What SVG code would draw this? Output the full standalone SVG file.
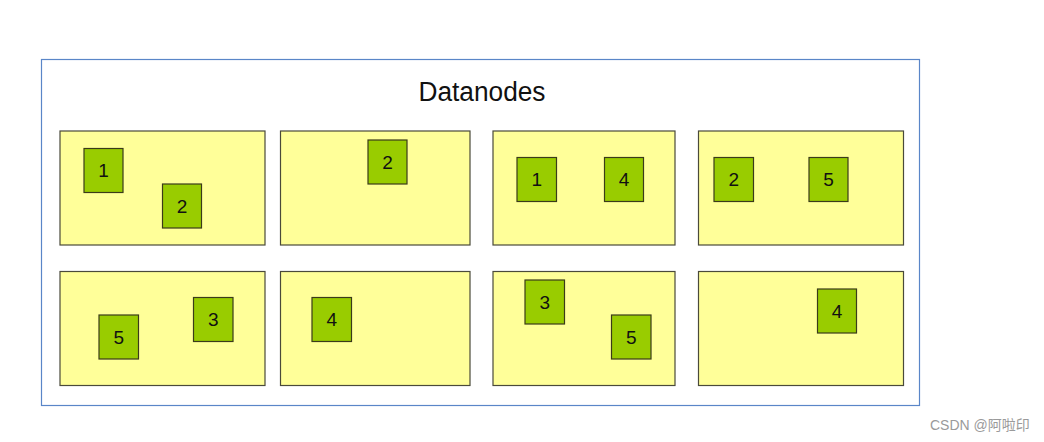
<svg xmlns="http://www.w3.org/2000/svg" width="1044" height="442" viewBox="0 0 1044 442">
<style>
.dn{fill:#ffff99;stroke:#4a4a3a;stroke-width:1.2}
.blk{fill:#99cc00;stroke:#3a3a1a;stroke-width:1.2}
.num{font-family:"Liberation Sans",Arial,sans-serif;font-size:19px;fill:#111;text-anchor:middle;dominant-baseline:central}
.title{font-family:"Liberation Sans",Arial,sans-serif;font-size:27px;fill:#111;text-anchor:middle}
.wm{font-family:"Liberation Sans","Noto Sans CJK SC",sans-serif;font-size:14px;fill:#9a9a9a}
</style>
<rect width="1044" height="442" fill="#ffffff"/>
<g id="container">
<rect x="41.5" y="59.5" width="878" height="346" fill="#ffffff" stroke="#5a86c8" stroke-width="1.2"/>
<text class="title" x="482" y="101" textLength="127" lengthAdjust="spacingAndGlyphs">Datanodes</text>
</g>
<g id="dn1"><rect class="dn" x="60" y="131" width="205" height="114"/>
<g id="dn1-b1"><rect class="blk" x="84" y="148.5" width="39" height="44"/><text class="num" x="103.5" y="170.5">1</text></g>
<g id="dn1-b2"><rect class="blk" x="162.5" y="184" width="39" height="44"/><text class="num" x="182" y="206">2</text></g>
</g>
<g id="dn2"><rect class="dn" x="280.5" y="131" width="189.5" height="114"/>
<g id="dn2-b2"><rect class="blk" x="368" y="140" width="39" height="44"/><text class="num" x="387.5" y="162">2</text></g>
</g>
<g id="dn3"><rect class="dn" x="493" y="131" width="182" height="114"/>
<g id="dn3-b1"><rect class="blk" x="517" y="157.5" width="39.5" height="44"/><text class="num" x="536.8" y="179.5">1</text></g>
<g id="dn3-b4"><rect class="blk" x="604.5" y="157.5" width="39" height="44"/><text class="num" x="624" y="179.5">4</text></g>
</g>
<g id="dn4"><rect class="dn" x="698.5" y="131" width="205" height="114"/>
<g id="dn4-b2"><rect class="blk" x="714" y="157.5" width="39.5" height="44"/><text class="num" x="733.8" y="179.5">2</text></g>
<g id="dn4-b5"><rect class="blk" x="809" y="157.5" width="39" height="44"/><text class="num" x="828.5" y="179.5">5</text></g>
</g>
<g id="dn5"><rect class="dn" x="60" y="271.5" width="205" height="114"/>
<g id="dn5-b5"><rect class="blk" x="99" y="315" width="39.5" height="44"/><text class="num" x="118.8" y="337">5</text></g>
<g id="dn5-b3"><rect class="blk" x="193.5" y="297.5" width="39.5" height="44"/><text class="num" x="213.3" y="319.5">3</text></g>
</g>
<g id="dn6"><rect class="dn" x="280.5" y="271.5" width="189.5" height="114"/>
<g id="dn6-b4"><rect class="blk" x="312" y="297.5" width="39.5" height="44"/><text class="num" x="331.8" y="319.5">4</text></g>
</g>
<g id="dn7"><rect class="dn" x="493" y="271.5" width="182" height="114"/>
<g id="dn7-b3"><rect class="blk" x="525" y="280" width="39.5" height="44"/><text class="num" x="544.8" y="302">3</text></g>
<g id="dn7-b5"><rect class="blk" x="611.5" y="315" width="39.5" height="44"/><text class="num" x="631.3" y="337">5</text></g>
</g>
<g id="dn8"><rect class="dn" x="698.5" y="271.5" width="205" height="114"/>
<g id="dn8-b4"><rect class="blk" x="817.5" y="289" width="39" height="44"/><text class="num" x="837" y="311">4</text></g>
</g>
<g id="connectors"></g>
<text class="wm" x="930" y="430">CSDN @阿啦印</text>
</svg>
